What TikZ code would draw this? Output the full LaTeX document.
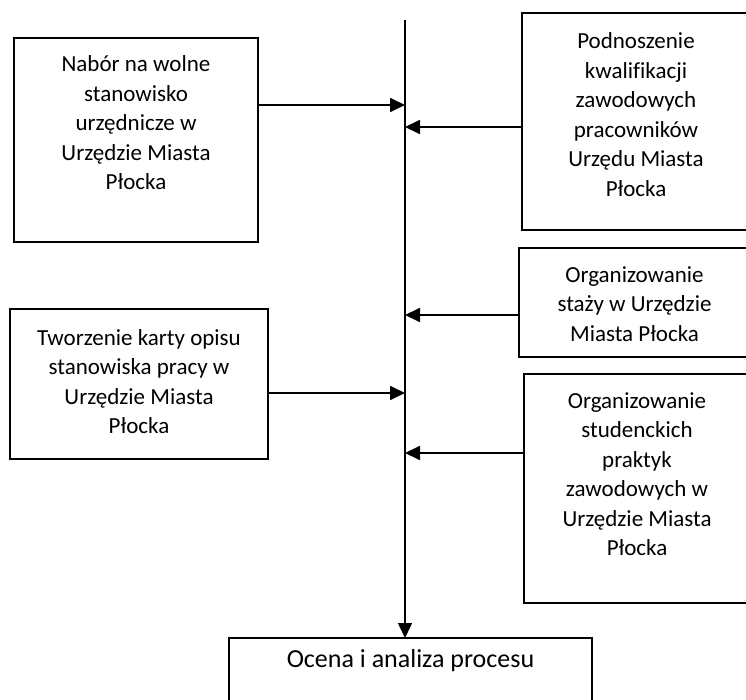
\documentclass[tikz,border=0pt]{standalone}
\usepackage{fontspec}
\setmainfont{Carlito}[Ligatures=NoCommon]
\usetikzlibrary{arrows.meta}
\usetikzlibrary{calc}

% box content: width, height, first baseline, text
\newcommand{\ramka}[4]{\parbox[c][#2][t]{#1}{\centering\rule{0pt}{#3}#4}}

\begin{document}
\begin{tikzpicture}[x=1pt, y=-1pt,
    box/.style={draw, line width=2pt, inner sep=0pt, outer sep=0pt, anchor=north west,
      font=\fontsize{23}{29.5}\selectfont},
    strzalka/.style={-{Triangle[length=15pt,width=14pt]}, line width=1.8pt}]
      \useasboundingbox (0,0) rectangle (746,700);
      \clip (0,0) rectangle (746,700);

      \node[box] (nabor) at (14,38) {\ramka{244pt}{204pt}{34pt}{Nabór na wolne\\ stanowisko\\ urzędnicze w\\ Urzędzie Miasta\\ Płocka}};
      \node[box] (karta) at (10,309) {\ramka{258pt}{150pt}{36pt}{Tworzenie karty opisu\\ stanowiska pracy w\\ Urzędzie Miasta\\ Płocka}};
      \node[box] (podnoszenie) at (522,13) {\ramka{228pt}{217pt}{36pt}{Podnoszenie\\ kwalifikacji\\ zawodowych\\ pracowników\\ Urzędu Miasta\\ Płocka}};
      \node[box] (staze) at (519,248) {\ramka{231pt}{109pt}{34pt}{Organizowanie\\ staży w Urzędzie\\ Miasta Płocka}};
      \node[box] (praktyki) at (524,374) {\ramka{226pt}{229pt}{34pt}{Organizowanie\\ studenckich\\ praktyk\\ zawodowych w\\ Urzędzie Miasta\\ Płocka}};
      \node[box, font=\fontsize{26}{32}\selectfont] (ocena) at (229,638) {\ramka{363pt}{90pt}{29pt}{Ocena i analiza procesu}};

      % main line
      \coordinate (gora) at (405,20);
      \coordinate (wA) at (405,105);
      \coordinate (wB) at (405,127);
      \coordinate (wC) at (405,315);
      \coordinate (wD) at (405,393);
      \coordinate (wE) at (405,453);
      \draw[strzalka, line width=1.5pt] (gora) -- (gora |- ocena.north);

      \draw[strzalka] (nabor.east |- wA) -- (wA);
      \draw[strzalka] (karta.east |- wD) -- (wD);
      \draw[strzalka] (podnoszenie.west |- wB) -- (wB);
      \draw[strzalka] (staze.west |- wC) -- (wC);
      \draw[strzalka] (praktyki.west |- wE) -- (wE);
\end{tikzpicture}
\end{document}
